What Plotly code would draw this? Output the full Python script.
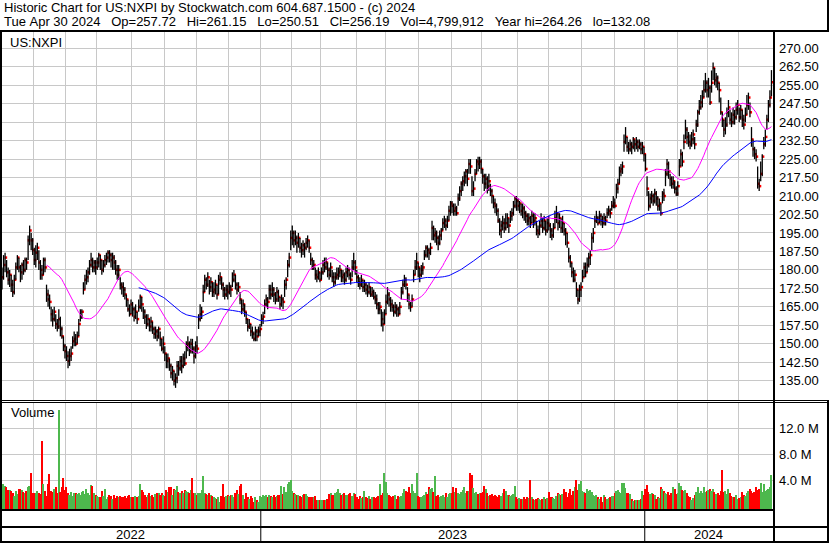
import numpy as np
import pandas as pd
import plotly.graph_objects as go

W, H = 830, 543

# ---------------- data ----------------
months = ["2022-05", "2022-06", "2022-07", "2022-08", "2022-09", "2022-10", "2022-11", "2022-12",
          "2023-01", "2023-02", "2023-03", "2023-04", "2023-05", "2023-06", "2023-07", "2023-08",
          "2023-09", "2023-10", "2023-11", "2023-12", "2024-01", "2024-02", "2024-03", "2024-04"]
month_days = [21, 21, 20, 23, 21, 21, 21, 21, 20, 19, 23, 19, 22, 21, 20, 23, 20, 22, 21, 20, 21, 20, 20, 22]

close = [
    177, 182, 185, 179, 176, 178, 174, 171, 176, 181, 185, 181, 179, 182, 180, 184, 183, 192, 196, 192, 188,
    184, 187, 189, 183, 180, 178, 184, 181, 170, 168, 167, 162, 160, 163, 158, 157, 160, 156, 153, 149, 147,
    145, 143, 145, 146, 151, 152, 150, 153, 158, 161, 163, 172, 176, 177, 179, 182, 184, 181, 183, 181,
    183, 186, 184, 180, 182, 184, 185, 187, 186, 184, 185, 183, 180, 178, 180, 174, 173, 172, 170, 168, 164, 162, 166,
    164, 161, 163, 160, 165, 169, 166, 163, 161, 158, 160, 157, 159, 156, 154, 155, 153, 156, 152, 148, 150,
    146, 143, 144, 141, 138, 139, 135, 136, 141, 140, 143, 141, 144, 142, 149, 150, 147, 150, 148, 145, 149,
    148, 160, 162, 163, 171, 176, 174, 177, 173, 175, 171, 172, 174, 170, 176, 177, 174, 172, 170, 172, 171,
    173, 172, 176, 178, 174, 172, 173, 168, 164, 166, 163, 160, 157, 158, 155, 154, 152, 155, 153, 155, 156,
    160, 161, 166, 168, 167, 172, 170, 172, 170, 168, 171, 169, 166, 168, 167, 174, 176, 182, 185, 193,
    195, 192, 193, 191, 193, 189, 188, 190, 189, 191, 192, 189, 184, 181, 182, 178, 177, 179, 176,
    179, 182, 181, 183, 180, 178, 181, 177, 175, 177, 178, 179, 180, 177, 178, 176, 179, 180, 178, 176, 181, 183, 181,
    177, 175, 174, 176, 173, 174, 172, 171, 173, 170, 171, 169, 168, 166, 164, 165, 160, 158, 162,
    167, 170, 168, 166, 165, 163, 165, 164, 162, 165, 171, 174, 176, 174, 170, 166, 165, 168, 178, 181, 183, 181,
    178, 180, 181, 186, 189, 188, 187, 189, 197, 194, 195, 193, 191, 194, 196, 199, 200, 198, 200, 204, 207,
    206, 204, 205, 203, 209, 212, 215, 216, 218, 220, 217, 223, 222, 212, 213, 219, 224, 223, 224, 221,
    218, 215, 217, 214, 216, 212, 210, 207, 206, 204, 200, 196, 198, 199, 197, 199, 201, 198, 202, 203, 206, 209, 208,
    206, 207, 204, 205, 203, 202, 200, 201, 199, 202, 200, 201, 196, 195, 198, 200, 197, 200, 196, 199,
    198, 196, 194, 197, 201, 203, 199, 201, 197, 199, 196, 195, 191, 185, 183, 179, 176, 178, 172, 168, 172, 173,
    177, 181, 179, 182, 185, 186, 193, 195, 200, 201, 199, 202, 200, 199, 201, 200, 203, 204, 203, 206, 207,
    206, 213, 215, 220, 221, 222, 232, 234, 230, 229, 231, 230, 233, 231, 232, 230, 231, 229, 230, 227,
    221, 213, 206, 209, 210, 208, 211, 209, 206, 207, 203, 211, 210, 219, 223, 220, 217, 215, 216, 213, 211,
    214, 222, 227, 224, 232, 237, 234, 232, 231, 233, 235, 231, 239, 244, 246, 248, 250, 253, 256, 253,
    254, 248, 256, 262, 257, 258, 256, 253, 244, 241, 237, 239, 244, 246, 241, 240, 243, 242, 245, 247,
    242, 245, 241, 239, 243, 247, 250, 244, 233, 229, 227, 226, 215, 214, 219, 226, 231, 234, 241, 247, 250, 256.19,
]

high = [
    181, 186, 187, 184, 181, 180, 178, 176, 178, 183, 186, 185, 182, 183, 184, 185, 185, 194, 198, 195, 193,
    189, 190, 191, 188, 184, 182, 185, 185, 174, 172, 170, 165, 164, 165, 162, 160, 164, 161, 157, 153, 150,
    149, 147, 148, 149, 153, 155, 154, 155, 160, 164, 164, 175, 178, 180, 181, 184, 187, 185, 184, 184,
    185, 187, 186, 184, 184, 186, 187, 188, 188, 187, 187, 186, 184, 182, 182, 177, 175, 175, 173, 170, 168, 166, 168,
    167, 165, 166, 163, 168, 170, 169, 165, 164, 162, 162, 160, 161, 159, 157, 157, 156, 157, 155, 152, 153,
    149, 146, 146, 144, 142, 141, 139, 138, 143, 143, 145, 145, 146, 147, 151, 153, 151, 152, 152, 149, 151,
    153, 162, 166, 165, 174, 178, 177, 179, 176, 177, 175, 175, 176, 174, 178, 179, 177, 175, 173, 174, 174,
    175, 174, 179, 180, 178, 175, 175, 171, 168, 168, 166, 163, 160, 160, 158, 157, 155, 157, 156, 157, 158,
    162, 163, 168, 170, 169, 174, 174, 175, 173, 171, 173, 172, 169, 170, 169, 176, 177, 184, 187, 196,
    198, 196, 196, 194, 195, 193, 191, 192, 191, 193, 194, 192, 187, 185, 184, 181, 180, 181, 179,
    181, 184, 185, 185, 183, 181, 183, 180, 179, 179, 181, 181, 182, 180, 180, 179, 181, 182, 181, 179, 184, 187, 184,
    180, 178, 177, 178, 176, 176, 175, 174, 175, 173, 173, 172, 171, 170, 167, 167, 164, 163, 164,
    170, 173, 171, 169, 168, 166, 167, 166, 165, 167, 173, 176, 178, 177, 173, 170, 167, 170, 180, 184, 187, 183,
    181, 182, 183, 188, 190, 190, 189, 191, 200, 198, 197, 196, 194, 196, 197, 201, 202, 201, 202, 206, 208,
    208, 207, 207, 206, 211, 214, 216, 218, 220, 221, 221, 225, 225, 218, 216, 221, 225, 226, 226, 225,
    221, 219, 219, 218, 219, 215, 213, 210, 209, 207, 205, 201, 200, 202, 201, 203, 203, 201, 204, 205, 208, 210, 210,
    209, 208, 207, 207, 206, 204, 203, 203, 202, 204, 203, 203, 200, 198, 200, 203, 201, 202, 200, 201,
    202, 199, 197, 199, 204, 206, 203, 203, 201, 202, 199, 197, 195, 189, 186, 183, 181, 180, 175, 172, 174, 175,
    180, 183, 183, 185, 187, 188, 195, 197, 202, 204, 202, 204, 203, 202, 203, 202, 205, 206, 205, 208, 210,
    209, 215, 217, 222, 223, 224, 235, 238, 234, 232, 233, 232, 234, 233, 234, 233, 233, 232, 232, 230,
    227, 218, 212, 211, 212, 211, 213, 212, 210, 209, 207, 212, 213, 221, 225, 224, 219, 218, 218, 216, 214,
    216, 225, 229, 228, 235, 241, 238, 236, 235, 236, 237, 234, 241, 245, 249, 251, 253, 257, 260, 257,
    258, 255, 261, 264.26, 262, 260, 259, 256, 250, 244, 241, 242, 246, 249, 245, 244, 246, 245, 248, 249,
    246, 247, 245, 243, 246, 251, 252, 248, 238, 233, 230, 229, 222, 217, 224, 227, 234, 237, 243, 249, 253, 261.15,
]

low = [
    172, 176, 179, 177, 174, 173, 171, 169, 170, 176, 180, 179, 175, 176, 178, 179, 180, 184, 190, 188, 186,
    182, 181, 184, 180, 176, 176, 178, 179, 167, 165, 164, 159, 157, 159, 156, 155, 156, 153, 152, 147, 144,
    143, 140, 141, 143, 148, 149, 149, 150, 153, 159, 160, 170, 172, 174, 175, 178, 181, 179, 179, 178,
    180, 181, 180, 178, 179, 181, 182, 183, 183, 181, 180, 180, 178, 176, 176, 172, 170, 169, 168, 165, 163, 161, 162,
    161, 159, 160, 158, 163, 164, 163, 160, 158, 156, 157, 155, 155, 154, 152, 152, 151, 152, 149, 147, 146,
    143, 140, 140, 139, 136, 135, 133, 132.08, 134, 137, 139, 138, 140, 141, 144, 147, 145, 146, 146, 142, 144,
    146, 156, 159, 160, 167, 171, 172, 173, 170, 171, 169, 169, 170, 168, 170, 174, 172, 169, 168, 169, 168,
    170, 169, 173, 175, 172, 170, 171, 166, 162, 163, 161, 158, 155, 156, 153, 152, 151, 151, 151, 153, 153,
    157, 158, 162, 165, 164, 168, 168, 169, 167, 166, 167, 167, 164, 165, 164, 169, 172, 177, 181, 188,
    190, 189, 190, 187, 189, 187, 185, 186, 185, 188, 189, 187, 182, 180, 180, 176, 175, 176, 175,
    176, 178, 179, 180, 177, 176, 177, 175, 173, 174, 176, 176, 177, 175, 175, 174, 175, 177, 176, 174, 177, 180, 178,
    175, 173, 172, 173, 171, 171, 170, 169, 170, 169, 169, 168, 166, 164, 162, 162, 157, 155, 158,
    162, 166, 165, 163, 163, 161, 162, 161, 161, 162, 168, 170, 173, 172, 167, 164, 163, 165, 175, 178, 180, 177,
    175, 177, 178, 184, 185, 185, 184, 186, 192, 192, 191, 190, 188, 190, 192, 196, 197, 196, 197, 200, 202,
    203, 202, 202, 202, 206, 208, 210, 212, 214, 215, 214, 219, 219, 210, 210, 216, 219, 220, 221, 219,
    215, 212, 213, 211, 212, 210, 207, 205, 203, 202, 199, 194, 193, 196, 195, 196, 197, 195, 199, 200, 202, 205, 204,
    204, 203, 202, 201, 200, 199, 198, 198, 197, 199, 197, 198, 194, 193, 194, 197, 195, 196, 194, 195,
    196, 193, 192, 193, 197, 199, 196, 197, 195, 195, 194, 190, 189, 183, 181, 177, 175, 175, 169, 166, 167, 169,
    175, 177, 177, 179, 181, 182, 188, 191, 197, 199, 198, 199, 198, 197, 198, 198, 201, 202, 201, 204, 205,
    205, 209, 211, 215, 218, 219, 228, 231, 228, 227, 228, 227, 229, 228, 229, 228, 229, 227, 227, 224,
    220, 210, 204, 205, 207, 206, 207, 206, 204, 204, 202, 207, 208, 214, 218, 217, 214, 213, 213, 211, 210,
    210, 218, 222, 222, 229, 233, 231, 230, 229, 230, 231, 229, 236, 238, 243, 245, 246, 250, 252, 250,
    250, 247, 252, 257, 255, 254, 253, 248, 243, 238, 234, 235, 238, 242, 239, 238, 239, 239, 241, 243,
    240, 241, 238, 237, 240, 243, 245, 242, 230, 226, 225, 224, 213, 212, 216, 218, 229, 230, 237, 240, 246, 250.51,
]

volume_m = [  # millions of shares
    2.9, 3.5, 3.2, 3.0, 2.5, 2.5, 2.4, 2.1, 1.6, 2.3, 1.9, 2.6, 2.7, 2.5, 2.2, 2.0, 2.4, 2.9, 3.1, 5.1, 2.1,
    2.1, 2.0, 2.3, 2.0, 1.9, 10.0, 3.5, 2.3, 1.6, 3.5, 4.9, 2.4, 2.2, 2.6, 3.0, 2.1, 14.8, 2.2, 2.9, 4.3, 2.5,
    2.9, 2.0, 1.8, 2.2, 1.6, 2.0, 2.1, 1.9, 2.0, 1.7, 2.2, 2.4, 1.9, 2.6, 2.0, 1.8, 3.3, 3.2, 2.0, 1.8,
    1.6, 1.4, 1.5, 2.4, 1.6, 2.6, 1.1, 1.5, 1.8, 1.6, 1.1, 1.7, 1.3, 1.6, 1.5, 1.6, 1.5, 1.4, 1.6, 1.3, 1.6, 1.8, 1.5,
    1.5, 1.4, 1.6, 1.5, 1.6, 3.4, 2.5, 2.2, 1.8, 1.5, 1.7, 2.0, 1.6, 1.8, 1.5, 1.9, 2.0, 2.1, 1.7, 2.0, 1.8,
    1.6, 2.5, 2.2, 3.0, 2.9, 1.7, 2.6, 2.5, 3.1, 2.2, 2.0, 2.3, 2.1, 2.5, 2.4, 2.2, 2.0, 2.5, 4.3, 2.1, 2.0,
    1.8, 2.0, 2.1, 2.5, 4.6, 2.0, 1.9, 1.8, 2.0, 1.7, 1.6, 1.5, 1.3, 1.2, 1.4, 0.7, 1.6, 3.4, 1.5, 1.6, 1.7,
    1.6, 1.8, 1.7, 1.5, 2.0, 2.5, 1.9, 3.1, 3.4, 1.7, 1.1, 2.0, 1.5, 1.2, 1.6, 1.3, 0.6, 1.4, 1.0, 0.7, 1.6,
    1.4, 1.7, 1.6, 1.8, 1.5, 1.7, 1.6, 1.4, 1.7, 1.5, 1.6, 1.8, 1.7, 3.2, 1.9, 2.9, 2.2, 3.4, 3.8, 4.0,
    2.4, 2.0, 1.9, 1.7, 1.8, 1.6, 1.5, 1.7, 1.9, 1.9, 1.6, 1.5, 1.4, 1.5, 1.4, 1.6, 1.0, 0.9, 1.0,
    0.9, 1.0, 1.0, 0.9, 1.2, 1.9, 2.0, 1.8, 1.7, 2.0, 2.2, 2.6, 2.0, 1.8, 1.9, 2.0, 1.7, 1.8, 1.9, 2.0, 1.6, 2.1, 1.9,
    1.5, 1.2, 1.6, 1.3, 1.4, 2.3, 1.4, 1.3, 1.6, 1.2, 1.4, 1.5, 1.3, 1.4, 1.6, 3.5, 1.8, 2.1, 5.2,
    3.8, 2.0, 1.7, 1.6, 1.5, 1.6, 1.8, 1.1, 1.6, 1.4, 1.6, 2.0, 2.6, 2.4, 2.2, 3.0, 2.1, 3.4, 2.4, 2.0, 5.1, 1.6,
    1.4, 1.5, 1.6, 1.8, 2.2, 1.9, 3.0, 2.6, 2.8, 2.2, 4.6, 1.6, 1.7, 1.5, 1.6, 1.8, 1.4, 2.1, 1.5, 1.9, 2.0,
    2.0, 3.0, 2.2, 2.8, 2.0, 1.9, 2.2, 2.5, 3.0, 2.1, 2.3, 2.4, 5.1, 4.8, 2.8, 2.0, 2.2, 1.9, 2.1, 2.0,
    2.2, 3.2, 2.7, 2.0, 1.6, 1.7, 1.9, 1.6, 1.7, 1.6, 1.5, 1.8, 1.6, 2.0, 2.6, 2.3, 1.7, 1.8, 1.6, 1.7, 1.9, 3.2, 1.5,
    1.2, 1.3, 1.1, 1.2, 1.4, 1.1, 1.5, 1.3, 4.0, 1.4, 1.2, 1.0, 1.1, 1.3, 1.2, 1.0, 1.2, 1.4, 1.1, 1.3,
    2.2, 1.4, 1.5, 1.3, 1.2, 1.6, 2.1, 1.9, 1.7, 1.9, 2.7, 2.2, 1.5, 2.1, 2.6, 1.8, 2.4, 2.9, 4.1, 2.5, 3.5, 3.9,
    2.4, 2.2, 2.0, 2.6, 2.4, 2.5, 2.2, 1.8, 1.6, 1.7, 1.4, 1.2, 1.5, 0.7, 1.8, 1.5, 1.2, 1.3, 1.4, 1.6, 1.6,
    2.0, 2.3, 2.5, 2.2, 2.0, 3.6, 3.6, 2.8, 2.1, 2.0, 1.9, 1.1, 0.8, 0.9, 1.0, 0.9, 0.9, 1.2, 2.3, 1.8,
    2.6, 3.3, 2.2, 1.9, 2.0, 1.9, 1.7, 1.2, 1.4, 1.3, 2.9, 2.6, 2.4, 2.1, 1.9, 2.2, 1.8, 2.0, 3.0, 2.6, 1.9,
    2.1, 3.6, 3.2, 2.5, 2.3, 2.5, 2.0, 1.6, 1.4, 1.0, 1.3, 1.7, 2.2, 3.0, 2.1, 2.3, 2.0, 3.0, 2.2, 2.3,
    2.5, 2.6, 2.4, 2.6, 2.2, 1.9, 2.0, 1.8, 2.4, 5.6, 2.2, 2.3, 1.9, 2.6, 2.0, 1.6, 1.4, 1.5, 1.8, 1.2,
    1.3, 1.5, 2.2, 1.8, 1.6, 2.0, 2.3, 2.6, 2.4, 2.1, 2.2, 3.0, 2.5, 2.6, 3.6, 2.2, 3.4, 2.4, 2.5, 2.6, 3.0, 4.8,
]

price_ticks = [135.0, 142.5, 150.0, 157.5, 165.0, 172.5, 180.0, 187.5, 195.0, 202.5,
               210.0, 217.5, 225.0, 232.5, 240.0, 247.5, 255.0, 262.5, 270.0]
volume_ticks = [4.0, 8.0, 12.0]
ma_windows = (30, 90)

title_line1 = "Historic Chart for US:NXPI by Stockwatch.com 604.687.1500 - (c) 2024"
title_fields = ["Tue Apr 30 2024", "Op=257.72", "Hi=261.15", "Lo=250.51", "Cl=256.19",
                "Vol=4,799,912", "Year hi=264.26", "lo=132.08"]
symbol_label = "US:NXPI"

# ---------------- checks / derived ----------------
n = sum(month_days)
for name, arr in [("close", close), ("high", high), ("low", low), ("volume", volume_m)]:
    if len(arr) != n:
        raise SystemExit(f"{name} has {len(arr)} values, expected {n}")

idx = np.arange(n)
c = np.array(close, dtype=float)
ma_fast = pd.Series(c).rolling(ma_windows[0]).mean()
ma_slow = pd.Series(c).rolling(ma_windows[1]).mean()

month_start = np.cumsum([0] + month_days[:-1])
grid_x = (month_start[1:] - 0.5).tolist()
year_sep = [month_start[k] - 0.5 for k, m in enumerate(months) if m.endswith("-01")]
years = sorted({m[:4] for m in months})

XMIN, XMAX = -1.3, n - 0.0
YMIN, YMAX = 127.15, 276.62
VMIN, VMAX = -0.415, 15.89

diff = np.diff(c, prepend=np.nan)
vcolors = []
for k, d in enumerate(diff):
    if k == 0 or d > 0:
        vcolors.append("#4DB84D")
    elif d < 0:
        vcolors.append("#FF0000")
    else:
        vcolors.append("#A8A8A8")

bx, by = [], []
for i in range(n):
    bx += [i, i, None]
    by += [low[i], high[i], None]

def pxx(x):
    return x / W

def pxy(y):
    return 1 - y / H

FONT = "Liberation Sans, Arial, sans-serif"
GRID = "#C8C8C8"

fig = go.Figure()
fig.add_trace(go.Scatter(x=idx + 0.55, y=c, mode="markers",
                         marker=dict(symbol="square", size=2.5, color="#FF0000", line=dict(width=0)),
                         hoverinfo="skip", xaxis="x", yaxis="y"))
fig.add_trace(go.Scatter(x=bx, y=by, mode="lines", line=dict(color="black", width=1.3),
                         hoverinfo="skip", xaxis="x", yaxis="y"))
fig.add_trace(go.Scatter(x=idx, y=ma_fast, mode="lines", line=dict(color="#FF00FF", width=1),
                         hoverinfo="skip", xaxis="x", yaxis="y"))
fig.add_trace(go.Scatter(x=idx, y=ma_slow, mode="lines", line=dict(color="#0000FF", width=1),
                         hoverinfo="skip", xaxis="x", yaxis="y"))
vol = np.array(volume_m)
fig.add_trace(go.Bar(x=idx, y=vol - VMIN, base=VMIN, marker=dict(color=vcolors, line=dict(width=0)),
                     width=0.85, hoverinfo="skip", xaxis="x2", yaxis="y2"))

x_dom = [0, pxx(773)]
common_x = dict(domain=x_dom, range=[XMIN, XMAX], tickvals=grid_x, showticklabels=False, ticks="",
                showgrid=True, gridcolor=GRID, gridwidth=1, zeroline=False, showline=False, fixedrange=True)

fig.update_layout(
    width=W, height=H, margin=dict(l=0, r=0, t=0, b=0),
    paper_bgcolor="white", plot_bgcolor="white", showlegend=False, bargap=0,
    font=dict(family=FONT, size=13, color="black"),
    xaxis=dict(anchor="y", **common_x),
    xaxis2=dict(anchor="y2", matches="x", **common_x),
    yaxis=dict(domain=[pxy(400), pxy(32)], range=[YMIN, YMAX], side="right", anchor="x",
               tickvals=price_ticks, ticktext=[f"{v:.2f}" for v in price_ticks],
               ticks="", ticklabelstandoff=5, showgrid=True, gridcolor=GRID, gridwidth=1,
               zeroline=False, showline=False, fixedrange=True,
               tickfont=dict(family=FONT, size=13, color="black")),
    yaxis2=dict(domain=[pxy(509), pxy(403)], range=[VMIN, VMAX], side="right", anchor="x2",
                tickvals=volume_ticks, ticktext=[f"{v:.1f} M" for v in volume_ticks],
                ticks="", ticklabelstandoff=5, showgrid=True, gridcolor=GRID, gridwidth=1,
                zeroline=False, showline=False, fixedrange=True,
                tickfont=dict(family=FONT, size=13, color="black")),
)

shapes = []
def hline(y, x0, x1, w):
    shapes.append(dict(type="line", xref="paper", yref="paper", x0=pxx(x0), x1=pxx(x1),
                       y0=pxy(y), y1=pxy(y), line=dict(color="black", width=w), layer="above"))
def vline(x, y0, y1, w, xref="paper"):
    xx = pxx(x) if xref == "paper" else x
    shapes.append(dict(type="line", xref=xref, yref="paper", x0=xx, x1=xx,
                       y0=pxy(y0), y1=pxy(y1), line=dict(color="black", width=w), layer="above"))

hline(31, 0, 829, 2)
vline(828, 0, 31, 2)
vline(1, 31, 543, 2)
vline(774, 31, 542, 2)
hline(400.5, 0, 829, 1)
hline(402.5, 0, 829, 1)
hline(510, 0, 774, 2)
hline(527, 0, 829, 2)
hline(542, 0, 829, 2)
vline(828, 400, 543, 2)
for s in year_sep:
    vline(s, 510, 542, 1, xref="x")
fig.update_layout(shapes=shapes)

anns = []
sp = "\u00a0" * 3
anns.append(dict(text=title_line1, x=pxx(2), y=pxy(8), xref="paper", yref="paper",
                 xanchor="left", yanchor="middle", showarrow=False, font=dict(size=13)))
anns.append(dict(text=sp.join(f.replace(" ", "\u00a0") for f in title_fields), x=pxx(2), y=pxy(21),
                 xref="paper", yref="paper", xanchor="left", yanchor="middle", showarrow=False,
                 font=dict(size=13)))
anns.append(dict(text=symbol_label, x=pxx(8), y=pxy(42), xref="paper", yref="paper",
                 xanchor="left", yanchor="middle", showarrow=False, font=dict(size=13)))
anns.append(dict(text="Volume", x=pxx(9), y=pxy(413), xref="paper", yref="paper",
                 xanchor="left", yanchor="middle", showarrow=False, font=dict(size=13)))
edges = [XMIN] + list(year_sep) + [XMAX]
for k, yr in enumerate(years):
    anns.append(dict(text=yr, x=(edges[k] + edges[k + 1]) / 2, y=pxy(534.5), xref="x", yref="paper",
                     xanchor="center", yanchor="middle", showarrow=False, font=dict(size=13)))
fig.update_layout(annotations=anns)

fig.write_html("out.html", config={"displayModeBar": False},
               post_script="document.body.style.margin='0';document.body.style.padding='0';")
